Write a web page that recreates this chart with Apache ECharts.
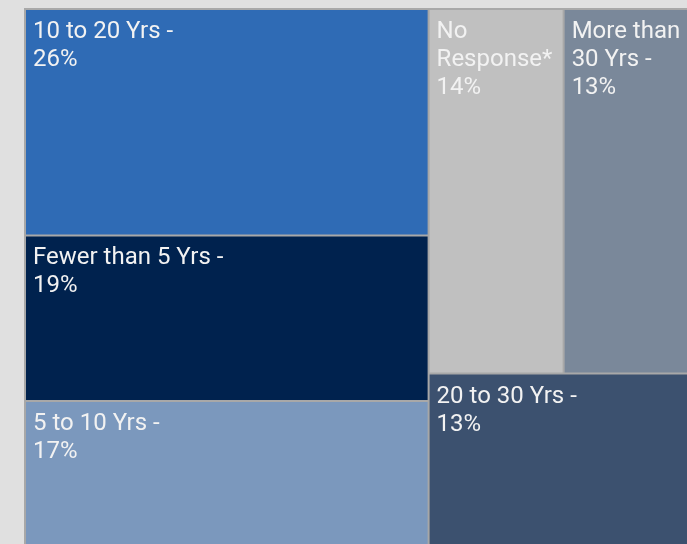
<!DOCTYPE html>
<html>
<head>
<meta charset="utf-8">
<script src="https://cdn.jsdelivr.net/npm/echarts@6/dist/echarts.min.js"></script>
<style>
html,body{margin:0;padding:0;background:#e0e0e0;overflow:hidden;}
#c{width:687px;height:544px;}
</style>
</head>
<body>
<div id="c"></div>
<script>
var categories = ['10 to 20 Yrs', 'Fewer than 5 Yrs', '5 to 10 Yrs', 'No Response*', 'More than 30 Yrs', '20 to 30 Yrs'];
var values = [26, 19, 17, 14, 13, 13];
var labelTexts = ['10 to 20 Yrs -\n26%', 'Fewer than 5 Yrs -\n19%', '5 to 10 Yrs -\n17%', 'No Response*\n14%', 'More than 30 Yrs -\n13%', '20 to 30 Yrs -\n13%'];
var colors = ['#2f6bb5', '#00224e', '#7b98bd', '#c0c0c0', '#7a889a', '#3c516f'];

var data = categories.map(function (c, i) {
  return { name: c, value: values[i], labelText: labelTexts[i], itemStyle: { color: colors[i] } };
});

var chart = echarts.init(document.getElementById('c'));
chart.setOption({
  backgroundColor: '#e0e0e0',
  animation: false,
  series: [{
    type: 'treemap',
    left: 24, top: 8, width: 666, height: 542,
    roam: false,
    nodeClick: false,
    breadcrumb: { show: false },
    sort: false,
    itemStyle: { borderColor: '#a8a8a8', borderWidth: 1, gapWidth: 0 },
    label: {
      show: true,
      position: 'insideTopLeft',
      overflow: 'break',
      padding: [8, 1, 8, 7],
      fontFamily: 'Roboto',
      fontSize: 24,
      lineHeight: 28,
      color: '#f2f2f2',
      formatter: function (p) { return p.data.labelText; }
    },
    data: data
  }]
});
</script>
</body>
</html>
